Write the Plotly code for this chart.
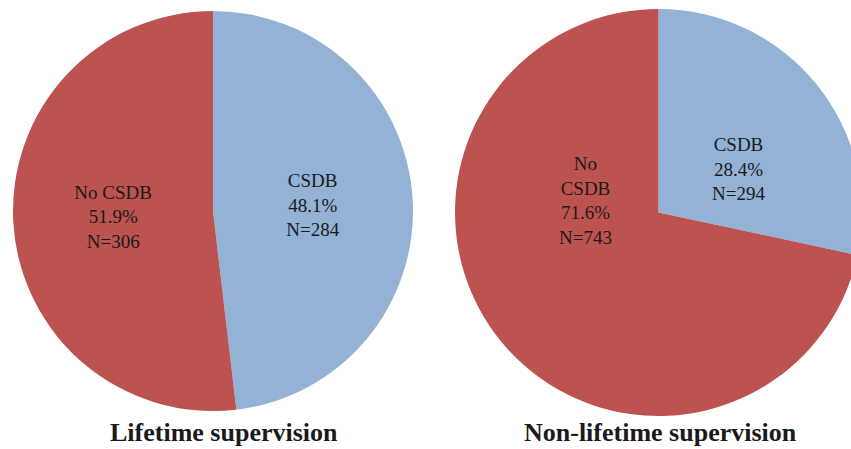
import plotly.graph_objects as go

# Drug-use outcome split by supervision type
categories = ["CSDB", "No CSDB"]
lifetime_counts = [284, 306]
lifetime_pct = [48.1, 51.9]
nonlifetime_counts = [294, 743]
nonlifetime_pct = [28.4, 71.6]
lifetime_names = ["CSDB", "No CSDB"]
nonlifetime_names = ["CSDB", "No<br>CSDB"]
panel_titles = ["Lifetime supervision", "Non-lifetime supervision"]

colors = ["#94B1D6", "#BC5350"]
VIEW_W = 851           # visible page width; the right pie runs off its edge
W, H = 862, 449
serif = "Liberation Serif, Times New Roman, serif"
label_font = dict(family=serif, size=19, color="#1a1a1a")


def label_text(names, pct, counts):
    return [f"{n}<br>{p:.1f}%<br>N={c}" for n, p, c in zip(names, pct, counts)]


def pie(values, texts, dom_x, dom_y):
    return go.Pie(
        labels=categories,
        values=values,
        text=texts,
        textinfo="text",
        textposition="inside",
        insidetextorientation="horizontal",
        textfont=label_font,
        marker=dict(colors=colors, line=dict(width=0)),
        sort=False,
        direction="clockwise",
        rotation=0,
        showlegend=False,
        domain=dict(x=dom_x, y=dom_y),
        hoverinfo="label+percent+value",
    )


left_texts = label_text(lifetime_names, lifetime_pct, lifetime_counts)
right_texts = label_text(nonlifetime_names, nonlifetime_pct, nonlifetime_counts)

fig = go.Figure()
fig.add_trace(pie(lifetime_counts, left_texts,
                  [13 / W, 413 / W], [1 - 411 / H, 1 - 11 / H]))
# right-hand labels are set closer to the centre than the slice bisectors
fig.add_trace(pie(nonlifetime_counts, ["", ""],
                  [455 / W, 862 / W], [1 - 416 / H, 1 - 9 / H]))
for txt, (px, py) in zip(right_texts, [(738, 169), (585, 200)]):
    fig.add_annotation(
        text=txt, x=px / W, y=1 - py / H, xref="paper", yref="paper",
        xanchor="center", yanchor="middle", showarrow=False, font=label_font,
    )

for title, cx in zip(panel_titles, [224, 660]):
    fig.add_annotation(
        text=f"<b>{title}</b>", x=cx / W, y=1 - 432 / H, xref="paper", yref="paper",
        xanchor="center", yanchor="middle", showarrow=False,
        font=dict(family=serif, size=26, color="#1a1a1a"),
    )

fig.update_layout(
    width=W, height=H, autosize=False,
    margin=dict(l=0, r=0, t=0, b=0),
    paper_bgcolor="white", plot_bgcolor="white",
    uniformtext=dict(minsize=19, mode="show"),
)

fig.write_html(
    "out.html",
    post_script="document.documentElement.style.overflow='hidden';"
                "document.body.style.overflow='hidden';",
)
